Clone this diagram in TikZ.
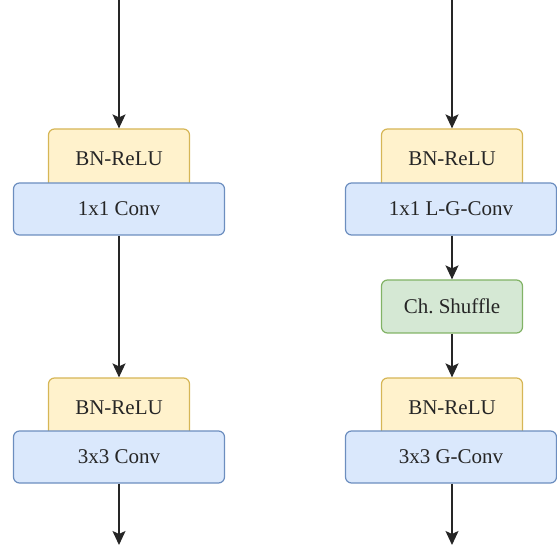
\documentclass[tikz,border=0pt]{standalone}
\usepackage{fontspec}
\setmainfont{Liberation Serif}
\usepackage{tikz}
\usetikzlibrary{arrows.meta}
\definecolor{bnfill}{HTML}{FFF2CC}
\definecolor{bnline}{HTML}{D6B656}
\definecolor{convfill}{HTML}{DAE8FC}
\definecolor{convline}{HTML}{6C8EBF}
\definecolor{shufill}{HTML}{D5E8D4}
\definecolor{shuline}{HTML}{82B366}
\definecolor{ink}{HTML}{262626}
\tikzset{
	block/.style={draw, line width=1.2pt, rounded corners=6pt, inner sep=0pt, text=ink, font=\fontsize{21}{25}\selectfont},
	bnrelu/.style={block, fill=bnfill, draw=bnline, minimum width=141pt, minimum height=60pt},
	convbox/.style={block, fill=convfill, draw=convline, minimum width=211pt, minimum height=52pt},
	shufbox/.style={block, fill=shufill, draw=shuline, minimum width=141pt, minimum height=53pt},
	flow/.style={draw=ink, line width=1.5pt, -{Stealth[length=14pt, width=13pt, inset=3pt]}}
}
\begin{document}
\begin{tikzpicture}[x=1pt, y=-1pt]
	\useasboundingbox (0,0) rectangle (557,545);
	\coordinate (inL) at (119,0);
	\coordinate (inR) at (452,0);
	\coordinate (outL) at (119,545);
	\coordinate (outR) at (452,545);
	% plain unit
	\node[bnrelu] (bnL1) at (119,159) {BN-ReLU};
	\node[convbox] (convL1) at (119,209) {1x1 Conv};
	\node[bnrelu] (bnL2) at (119,408) {BN-ReLU};
	\node[convbox] (convL2) at (119,457) {3x3 Conv};
	% grouped unit
	\node[bnrelu] (bnR1) at (452,159) {BN-ReLU};
	\node[convbox] (convR1) at (451,209) {1x1 L-G-Conv};
	\node[shufbox] (shuf) at (452,306.5) {Ch.\ Shuffle};
	\node[bnrelu] (bnR2) at (452,408) {BN-ReLU};
	\node[convbox] (convR2) at (451,457) {3x3 G-Conv};
	\draw[flow] (inL) -- (bnL1);
	\draw[flow] (convL1) -- (bnL2);
	\draw[flow] (convL2) -- (outL);
	\draw[flow] (inR) -- (bnR1);
	\draw[flow] (convR1.south -| shuf) -- (shuf);
	\draw[flow] (shuf) -- (bnR2);
	\draw[flow] (convR2.south -| outR) -- (outR);
\end{tikzpicture}
\end{document}
